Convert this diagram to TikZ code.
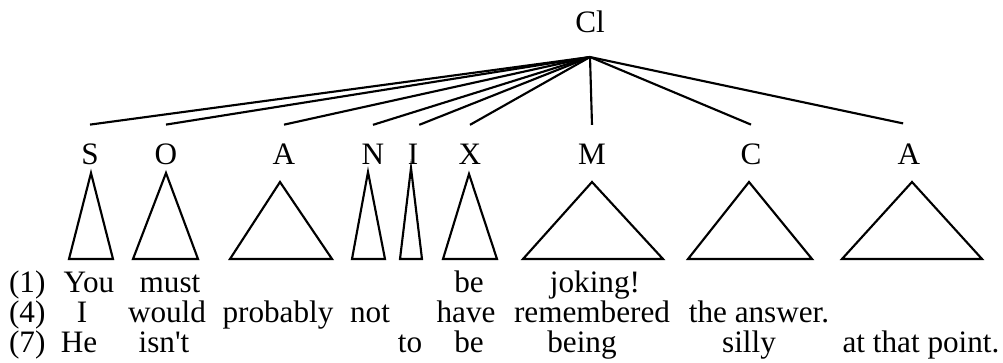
\documentclass[tikz,border=0pt]{standalone}
\usepackage{fontspec}
\setmainfont{Liberation Serif}
\usetikzlibrary{positioning}

\begin{document}
\begin{tikzpicture}[x=0.75pt, y=-0.75pt, line width=1.6pt,
    every node/.style={font=\fontsize{23.4}{28}\selectfont, anchor=base, inner sep=0pt},
    cat/.style={inner ysep=14pt}]
    \useasboundingbox (0,0) rectangle (1003,363);

    % Root
    \node[inner ysep=17pt] (cl) at (590,33) {Cl};

    % Categories
    \node[cat] (s)  at (90,165)  {S};
    \node[cat] (o)  at (166,165) {O};
    \node[cat] (a1) at (284,165) {A};
    \node[cat] (n)  at (373,165) {N};
    \node[cat] (i)  at (413,165) {I};
    \node[cat] (x)  at (470,165) {X};
    \node[cat] (m)  at (592,165) {M};
    \node[cat] (c)  at (751,165) {C};
    \node[cat] (a2) at (909,165) {A};

    % Branches
    \foreach \n in {s,o,a1,n,x,m,c}
        \draw (cl.south) -- (\n.north);
    \draw (cl.south) -- (i.north east);
    \draw[shorten >=4.5pt] (cl.south) -- (a2.north);

    % Triangles
    \foreach \ax/\ay/\l/\r in {91/173/69/113, 166/173/133/198, 280/182/230/332,
            368/172/352/385, 411/168/400/422, 469/174/443/497,
            592/182/523/663, 749/182/688/812, 912/182/842/982}
        \draw[line join=miter] (\ax,\ay) -- (\l,259) -- (\r,259) -- cycle;

    % Example sentences
    \node[anchor=base west] (r1) at (8,292) {(1)};
    \node[anchor=base west] (r4) at (8,323) {(4)};
    \node[anchor=base west] (r7) at (8,353) {(7)};
    \foreach \t/\x [count=\k] in {You/89, must/170, be/469, joking!/595}
        \node (w1\k) at (\x,292) {\t};
    \foreach \t/\x [count=\k] in {I/82, would/167, probably/278, not/370,
            have/466, remembered/592, the answer./759}
        \node (w4\k) at (\x,323) {\t};
    \foreach \t/\x [count=\k] in {He/79, isn\textquotesingle{}t/164, to/410, be/469,
            being/582, silly/749, at that point./921}
        \node (w7\k) at (\x,353) {\t};
\end{tikzpicture}
\end{document}
